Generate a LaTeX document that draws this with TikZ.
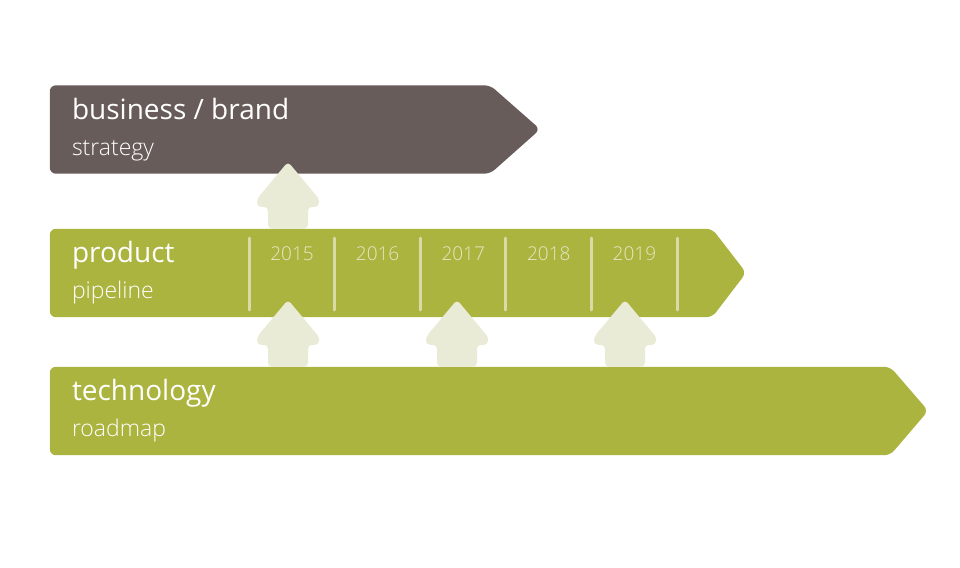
\documentclass[tikz,border=0pt]{standalone}
\usepackage{fontspec}
\setmainfont{Open Sans}
\newfontfamily\thinfont{Open Sans Light}
\usetikzlibrary{positioning, calc}
\definecolor{brandbrown}{HTML}{675C59}
\definecolor{pipegreen}{HTML}{ABB43F}
\definecolor{liftcream}{HTML}{EAEBD6}
\definecolor{tickcream}{HTML}{D8DBA6}
\definecolor{yearcream}{HTML}{E4E7C4}

\begin{document}
\begin{tikzpicture}[
  x=1pt, y=-1pt,
  body/.style={rectangle, inner sep=0pt, minimum height=88pt},
  bartitle/.style={anchor=base west, inner sep=0pt, text=white, font=\fontsize{28}{32}\selectfont},
  barsub/.style={anchor=base west, inner sep=0pt, text=white, font=\thinfont\fontsize{23}{27}\selectfont},
  year/.style={anchor=base, inner sep=0pt, text=yearcream, font=\thinfont\fontsize{19}{22}\selectfont},
  tick/.style={draw=tickcream, line width=3pt, line cap=round},
  lift/.style={fill=liftcream, rounded corners=4pt}
]
\useasboundingbox (0,0) rectangle (960,567);

% bar bodies
\node[body, minimum width=440pt] (brand) at (270,129.5) {};
\node[body, minimum width=662pt] (product) at (381,273) {};
\node[body, minimum width=840pt] (tech) at (470,411) {};

% bars with pointed ends
\fill[brandbrown, rounded corners=6pt] (brand.north west) -- (brand.north east) -- ++(50,44) -- (brand.south east) -- (brand.south west) -- cycle;
\fill[pipegreen, rounded corners=6pt] (product.north west) -- (product.north east) -- ++(34,44) -- (product.south east) -- (product.south west) -- cycle;
\fill[pipegreen, rounded corners=6pt] (tech.north west) -- (tech.north east) -- ++(38,44) -- (tech.south east) -- (tech.south west) -- cycle;

% labels
\node[bartitle] (brandtitle) at ([shift={(22,-10)}]brand.west) {business / brand};
\node[barsub] (brandsub) at ([shift={(22,26)}]brand.west) {strategy};
\node[bartitle] (producttitle) at ([shift={(22,-10.5)}]product.west) {product};
\node[barsub] (productsub) at ([shift={(22,25.5)}]product.west) {pipeline};
\node[bartitle] (techtitle) at ([shift={(22,-10.5)}]tech.west) {technology};
\node[barsub] (techsub) at ([shift={(22,25.5)}]tech.west) {roadmap};

% timeline
\foreach \i in {0,...,5}
  \draw[tick] (249+85.6*\i,238) -- (249+85.6*\i,310);
\foreach \yr [count=\i from 0] in {2015,2016,2017,2018,2019}
  \node[year] (y\yr) at (292+85.6*\i,260) {\yr};

% upward arrows
\foreach \src/\x in {tech/288, tech/457, tech/625, product/288}
  \fill[lift] (\src.north -| \x,0) ++(-20,0) -- ++(0,-22) -- ++(-11,0) -- ++(0,-8)
    -- ++(31,-37) [rounded corners=2pt] -- ++(31,37) [rounded corners=4pt] -- ++(0,8) -- ++(-11,0) -- ++(0,22) -- cycle;
\end{tikzpicture}
\end{document}
